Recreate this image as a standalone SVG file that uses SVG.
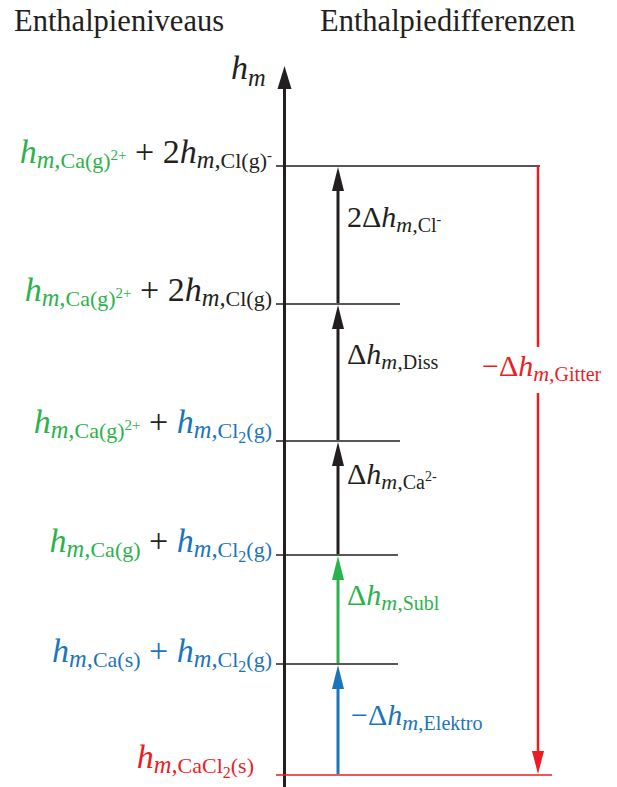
<svg xmlns="http://www.w3.org/2000/svg" width="617" height="787" viewBox="0 0 617 787">
<style>
text{font-family:"Liberation Serif","Times New Roman",serif;fill:#231f20}
.title{font-size:30.5px}
.L{font-size:34px}
.R{font-size:30px}
.i{font-style:italic}
.ms{font-size:24.5px}
.s{font-size:22px}
.sp{font-size:15px}
.s2{font-size:16px}
.rms{font-size:22px}
.rs{font-size:20px}
.rsp{font-size:14px}
.g{fill:#2bb24c}
.b{fill:#1b75bb}
.r{fill:#ed1c24}
.k{fill:#231f20}
.lvl{stroke:#231f20;stroke-width:1.3;fill:none}
</style>
<text class="title" x="14" y="31">Enthalpieniveaus</text>
<text class="title" x="320" y="31">Enthalpiedifferenzen</text>

<g id="axis">
<line x1="284.5" y1="787" x2="284.5" y2="86" stroke="#231f20" stroke-width="3"/>
<path d="M284.5 66 L291.5 89 L277.5 89 Z" fill="#231f20"/>
<text class="L i" x="231" y="79">h<tspan class="ms" dy="7">m</tspan></text>
</g>

<g id="levels">
<line class="lvl" x1="276" y1="166" x2="540" y2="166"/>
<line class="lvl" x1="276" y1="304" x2="400" y2="304"/>
<line class="lvl" x1="276" y1="441" x2="400" y2="441"/>
<line class="lvl" x1="276" y1="555" x2="398" y2="555"/>
<line class="lvl" x1="276" y1="664" x2="398" y2="664"/>
<line x1="276" y1="775" x2="552" y2="775" stroke="#ed1c24" stroke-width="1.5"/>
</g>

<g id="connectors">
<line x1="338" y1="303" x2="338" y2="185" stroke="#231f20" stroke-width="3"/>
<path d="M338 167 L344 191 L332 191 Z" fill="#231f20"/>
<line x1="338" y1="440" x2="338" y2="322" stroke="#231f20" stroke-width="3"/>
<path d="M338 305 L344 329 L332 329 Z" fill="#231f20"/>
<line x1="338" y1="554" x2="338" y2="460" stroke="#231f20" stroke-width="3"/>
<path d="M338 442 L344 466 L332 466 Z" fill="#231f20"/>
<line x1="338" y1="663" x2="338" y2="574" stroke="#2bb24c" stroke-width="3"/>
<path d="M338 556 L344 580 L332 580 Z" fill="#2bb24c"/>
<line x1="338" y1="774" x2="338" y2="683" stroke="#1b75bb" stroke-width="3"/>
<path d="M338 665 L344 689 L332 689 Z" fill="#1b75bb"/>
<line x1="538" y1="166" x2="538" y2="347" stroke="#ed1c24" stroke-width="2.5"/>
<line x1="538" y1="393" x2="538" y2="756" stroke="#ed1c24" stroke-width="2.5"/>
<path d="M538 774 L544 751 L532 751 Z" fill="#ed1c24"/>
</g>

<g id="level1">
<text class="L" x="272" y="163" text-anchor="end"><tspan class="i g">h</tspan><tspan class="i ms g" dy="5">m,</tspan><tspan class="s g">Ca(g)</tspan><tspan class="sp g" dy="-8">2+</tspan><tspan class="k" dy="3"> + 2</tspan><tspan class="i">h</tspan><tspan class="i ms" dy="5">m,</tspan><tspan class="s">Cl(g)</tspan><tspan class="sp" dy="-8">-</tspan></text>
</g>
<g id="level2">
<text class="L" x="272" y="301" text-anchor="end"><tspan class="i g">h</tspan><tspan class="i ms g" dy="5">m,</tspan><tspan class="s g">Ca(g)</tspan><tspan class="sp g" dy="-8">2+</tspan><tspan class="k" dy="3"> + 2</tspan><tspan class="i">h</tspan><tspan class="i ms" dy="5">m,</tspan><tspan class="s">Cl(g)</tspan></text>
</g>
<g id="level3">
<text class="L" x="272" y="433" text-anchor="end"><tspan class="i g">h</tspan><tspan class="i ms g" dy="5">m,</tspan><tspan class="s g">Ca(g)</tspan><tspan class="sp g" dy="-8">2+</tspan><tspan class="k" dy="3"> + </tspan><tspan class="i b">h</tspan><tspan class="i ms b" dy="5">m,</tspan><tspan class="s b">Cl</tspan><tspan class="s2 b" dy="5">2</tspan><tspan class="s b" dy="-5">(g)</tspan></text>
</g>
<g id="level4">
<text class="L" x="272" y="552" text-anchor="end"><tspan class="i g">h</tspan><tspan class="i ms g" dy="5">m,</tspan><tspan class="s g">Ca(g)</tspan><tspan class="k" dy="-5"> + </tspan><tspan class="i b">h</tspan><tspan class="i ms b" dy="5">m,</tspan><tspan class="s b">Cl</tspan><tspan class="s2 b" dy="5">2</tspan><tspan class="s b" dy="-5">(g)</tspan></text>
</g>
<g id="level5">
<text class="L" x="272" y="662" text-anchor="end"><tspan class="i b">h</tspan><tspan class="i ms b" dy="5">m,</tspan><tspan class="s b">Ca(s)</tspan><tspan class="b" dy="-5"> + </tspan><tspan class="i b">h</tspan><tspan class="i ms b" dy="5">m,</tspan><tspan class="s b">Cl</tspan><tspan class="s2 b" dy="5">2</tspan><tspan class="s b" dy="-5">(g)</tspan></text>
</g>
<g id="level6">
<text class="L r" x="254" y="768" text-anchor="end"><tspan class="i r">h</tspan><tspan class="i ms r" dy="5">m,</tspan><tspan class="s r">CaCl</tspan><tspan class="s2 r" dy="5">2</tspan><tspan class="s r" dy="-5">(s)</tspan></text>
</g>

<g id="diff-cl">
<text class="R" x="347" y="227">2Δ<tspan class="i">h</tspan><tspan class="i rms" dy="5">m,</tspan><tspan class="rs">Cl</tspan><tspan class="rsp" dy="-8">-</tspan></text>
</g>
<g id="diff-diss">
<text class="R" x="347" y="364">Δ<tspan class="i">h</tspan><tspan class="i rms" dy="5">m,</tspan><tspan class="rs">Diss</tspan></text>
</g>
<g id="diff-ca">
<text class="R" x="347" y="484">Δ<tspan class="i">h</tspan><tspan class="i rms" dy="5">m,</tspan><tspan class="rs">Ca</tspan><tspan class="rsp" dy="-8">2-</tspan></text>
</g>
<g id="diff-subl">
<text class="R g" x="347" y="605">Δ<tspan class="i g">h</tspan><tspan class="i rms g" dy="5">m,</tspan><tspan class="rs g">Subl</tspan></text>
</g>
<g id="diff-elektro">
<text class="R b" x="351" y="725">−Δ<tspan class="i b">h</tspan><tspan class="i rms b" dy="5">m,</tspan><tspan class="rs b">Elektro</tspan></text>
</g>
<g id="diff-gitter">
<text class="R r" x="482" y="376">−Δ<tspan class="i r">h</tspan><tspan class="i rms r" dy="5">m,</tspan><tspan class="rs r">Gitter</tspan></text>
</g>
</svg>
